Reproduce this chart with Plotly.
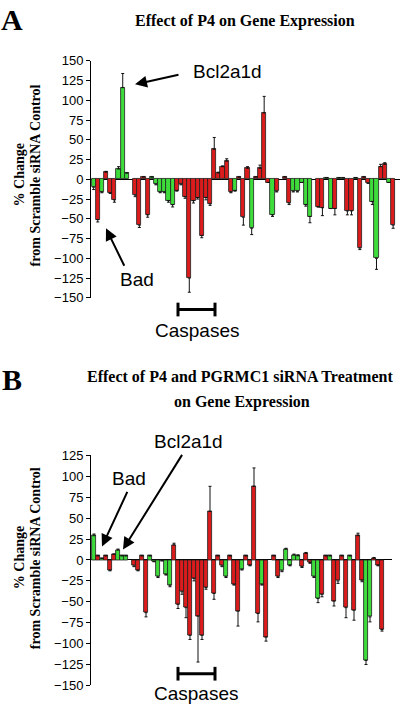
import plotly.graph_objects as go

W, H = 400, 715

# ---------------- Panel A data (slot order, None = no bar) ----------------
values_a = [-10, -51, -16, 9, -17, -26, 13, 116, 8, None,
            -20, -58, 3, -45, 3, -6, -16, -16, -27, -32,
            -14, -6, -22, -125, -27, -23, -71, -23, -31, 38,
            8, 16, 23, -16, -14, 3, -48, 14, -62, 3,
            14, 84, -4, -45, -15, None, 3, -30, -15, -15,
            -4, -32, -47, None, -35, -36, 2, -37, -37, 2,
            2, -40, -40, 2, -87, 3, -5, -28, -100, 16,
            19, -4, -58]
errors_a = [3, 3, 1, 1, 1, 3, 3, 18, 0, 0,
            2, 3, 0, 3, 0, 1, 1, 1, 2, 3,
            1, 1, 2, 18, 3, 2, 3, 3, 2, 15,
            1, 1, 3, 1, 1, 0, 10, 2, 8, 0,
            4, 21, 0, 2, 1, 0, 0, 2, 1, 1,
            0, 2, 8, 0, 0, 10, 0, 0, 8, 0,
            0, 5, 5, 0, 2, 0, 0, 4, 14, 3,
            2, 0, 4]
groups_a = ["G", "R", "G", "R", "R", "R", "G", "G", "G", "R",
            "R", "R", "R", "R", "G", "G", "G", "G", "G", "G",
            "R", "R", "R", "R", "R", "R", "R", "R", "R", "R",
            "R", "R", "R", "R", "G", "R", "R", "R", "G", "R",
            "R", "R", "R", "G", "R", "R", "R", "R", "G", "G",
            "G", "G", "G", "R", "R", "R", "G", "G", "R", "G",
            "G", "R", "R", "G", "R", "R", "R", "G", "G", "R",
            "R", "G", "R"]

# ---------------- Panel B data ----------------
values_b = [29, 5, 2, 5, -12, 7, 12, 5, 5, None,
            -7, -12, 5, -63, 5, -2, -20, -1, -17, -30,
            18, -53, -38, -57, -90, -22, -67, -90, -33, 58,
            -40, 5, -7, -20, 5, -29, -61, -11, 5, -6,
            88, -64, -29, -92, None, 5, -20, -13, 13, -6,
            6, 5, -8, 8, -3, -20, -46, -41, 5, 5,
            -49, -25, 5, -57, 5, -60, 29, -24, -120, -68,
            2, -6, -83]
errors_b = [2, 0, 0, 0, 1, 0, 1, 0, 0, 0,
            1, 1, 0, 5, 0, 0, 1, 0, 1, 2,
            2, 5, 3, 12, 5, 3, 55, 5, 2, 30,
            7, 0, 1, 1, 0, 1, 18, 1, 0, 1,
            22, 10, 1, 5, 0, 0, 1, 1, 1, 1,
            1, 1, 1, 1, 1, 1, 5, 3, 0, 0,
            6, 3, 0, 12, 0, 12, 3, 2, 5, 6,
            1, 1, 2]
groups_b = ["G", "R", "G", "R", "R", "R", "G", "G", "G", "R",
            "R", "R", "R", "R", "G", "G", "G", "G", "G", "G",
            "R", "R", "R", "R", "R", "R", "R", "R", "R", "R",
            "R", "R", "R", "G", "R", "R", "R", "G", "R", "R",
            "R", "R", "G", "R", "R", "R", "R", "G", "G", "G",
            "G", "G", "R", "R", "R", "G", "G", "R", "R", "G",
            "R", "R", "R", "R", "G", "R", "R", "R", "G", "G",
            "R", "R", "R"]

y_ticks_a = list(range(-150, 151, 25))
y_ticks_b = list(range(-150, 126, 25))

GREEN = "#3ddc3a"
RED = "#dc1c1c"
colmap = {"G": GREEN, "R": RED}


def px_x(p):
    return p / W


def px_y(p):
    return 1 - p / H


def add_panel(fig, values, errors, groups, xa, ya):
    x = list(range(1, len(values) + 1))
    plus = [e if (v is not None and v >= 0) else 0 for v, e in zip(values, errors)]
    minus = [e if (v is not None and v < 0) else 0 for v, e in zip(values, errors)]
    fig.add_trace(go.Bar(
        x=x, y=values, xaxis=xa, yaxis=ya, width=1.0,
        marker=dict(color=[colmap[g] for g in groups],
                    line=dict(color="#202020", width=0.8)),
        error_y=dict(type="data", symmetric=False, array=plus, arrayminus=minus,
                     color="#111111", thickness=1, width=1.5),
        showlegend=False, hoverinfo="x+y"))


fig = go.Figure()
add_panel(fig, values_a, errors_a, groups_a, "x", "y")
add_panel(fig, values_b, errors_b, groups_b, "x2", "y2")

tickfont = dict(family="Liberation Sans, Arial", size=13, color="black")
common_y = dict(showline=True, linecolor="black", linewidth=1, ticks="outside",
                ticklen=4, tickcolor="black", showgrid=False, zeroline=True,
                zerolinecolor="black", zerolinewidth=1, tickfont=tickfont)
common_x = dict(visible=False, showgrid=False, zeroline=False)

fig.update_layout(
    width=W, height=H, margin=dict(l=0, r=0, t=0, b=0),
    paper_bgcolor="white", plot_bgcolor="white", bargap=0,
    xaxis=dict(domain=[px_x(91), 1.0], range=[0.375, 74.65], anchor="y", **common_x),
    yaxis=dict(domain=[px_y(297), px_y(55)], range=[-150, 150], anchor="x",
               tickvals=y_ticks_a, **common_y),
    xaxis2=dict(domain=[px_x(91), px_x(392)], range=[0.25, 75.5], anchor="y2", **common_x),
    yaxis2=dict(domain=[px_y(693), px_y(458)], range=[-150, 125], anchor="x2",
                tickvals=y_ticks_b, **common_y),
)

serif = "Liberation Serif, Times New Roman, serif"
sans = "Liberation Sans, Arial, sans-serif"
ann = []


def text(x, y, t, size, family, bold=False, angle=0):
    ann.append(dict(x=px_x(x), y=px_y(y), xref="paper", yref="paper",
                    text=("<b>%s</b>" % t) if bold else t, showarrow=False,
                    font=dict(family=family, size=size, color="black"),
                    textangle=angle, xanchor="center", yanchor="middle"))


def arrow(x0, y0, x1, y1):
    ann.append(dict(x=px_x(x1), y=px_y(y1), xref="paper", yref="paper",
                    ax=x0 - x1, ay=y0 - y1, axref="pixel", ayref="pixel",
                    text="", showarrow=True, arrowhead=2, arrowsize=1.2,
                    arrowwidth=2, arrowcolor="black"))


# Panel letters and titles
text(12, 13, "A", 30, serif, bold=True)
text(245, 14, "Effect of P4 on Gene Expression", 16, serif, bold=True)
text(12, 380, "B", 30, serif, bold=True)
text(240, 377, "Effect of P4 and PGRMC1 siRNA Treatment", 16, serif, bold=True)
text(242, 403, "on Gene Expression", 16, serif, bold=True)

# y-axis titles (two lines each)
for cy in (172, 563):
    text(19, cy, "% Change", 14, serif, bold=True, angle=-90)
    text(35, cy, "from Scramble siRNA Control", 14, serif, bold=True, angle=-90)

# Panel A annotations
text(227, 66, "Bcl2a1d", 19, sans)
arrow(180, 69, 135, 79)
text(137, 278, "Bad", 19, sans)
arrow(125, 265, 106, 226)
text(197, 330, "Caspases", 19, sans)

# Panel B annotations
text(188, 444, "Bcl2a1d", 19, sans)
arrow(183, 458, 123, 554)
text(129, 482, "Bad", 19, sans)
arrow(128, 495, 102, 551)
text(196, 701, "Caspases", 19, sans)

fig.update_layout(annotations=ann)

# Caspase brackets
shapes = []
for yb in (309, 681):
    shapes.append(dict(type="line", xref="paper", yref="paper",
                       x0=px_x(178), x1=px_x(215), y0=px_y(yb), y1=px_y(yb),
                       line=dict(color="black", width=3)))
    for xb in (178, 215):
        shapes.append(dict(type="line", xref="paper", yref="paper",
                           x0=px_x(xb), x1=px_x(xb), y0=px_y(yb - 7), y1=px_y(yb + 7),
                           line=dict(color="black", width=3)))
fig.update_layout(shapes=shapes)

fig.write_html("out.html", config={"displayModeBar": False},
               post_script="document.body.style.margin='0px';")
